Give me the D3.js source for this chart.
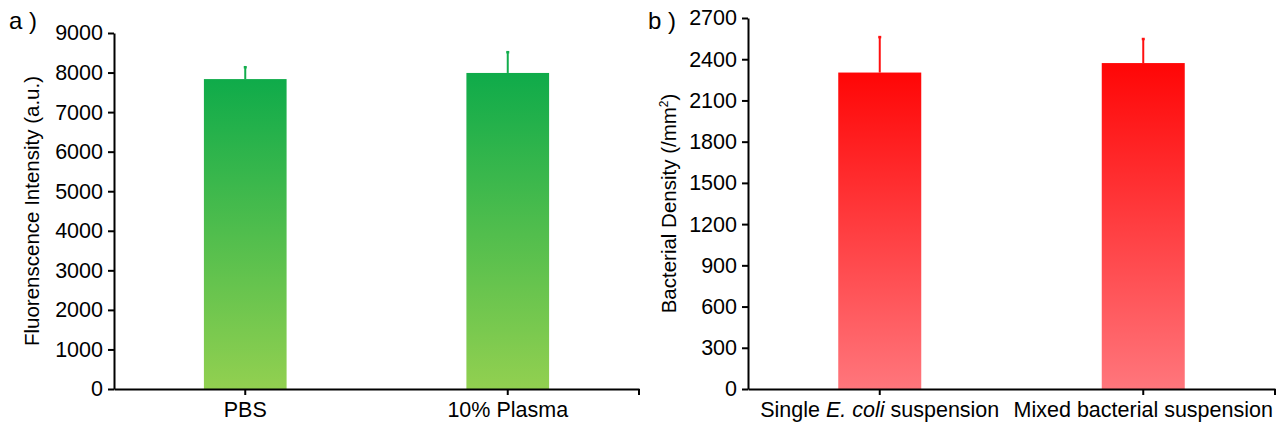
<!DOCTYPE html>
<html>
<head>
<meta charset="utf-8">
<script src="https://cdn.jsdelivr.net/npm/d3@7"></script>
<style>
  body { margin: 0; background: #fff; }
  svg { font-family: "Liberation Sans", Arial, sans-serif; }
</style>
</head>
<body>
<script>
// 数据
const catsA = ['PBS', '10% Plasma'];
const valsA = [7835, 7990];
const errA = [300, 525];
const ticksA = [0, 1000, 2000, 3000, 4000, 5000, 6000, 7000, 8000, 9000];

const catsB = ['single', 'mixed'];
// 横轴标签，分段以便斜体
const labelsB = [
    [['Single ', false], ['E. coli', true], [' suspension', false]],
    [['Mixed bacterial suspension', false]]
];
const valsB = [2303, 2372];
const errB = [258, 175];
const ticksB = [0, 300, 600, 900, 1200, 1500, 1800, 2100, 2400, 2700];

const width = 1285;
const height = 429;
const fs = 21.5;

const svg = d3.select('body')
    .append('svg')
    .attr('width', width)
    .attr('height', height);

const defs = svg.append('defs');

function grad(id, top, bottom) {
    const g = defs.append('linearGradient')
        .attr('id', id)
        .attr('x1', 0).attr('y1', 0)
        .attr('x2', 0).attr('y2', 1);
    g.append('stop').attr('offset', '0%').attr('stop-color', top);
    g.append('stop').attr('offset', '100%').attr('stop-color', bottom);
}
grad('gGreen', '#0fab4a', '#92d050');
grad('gRed', '#ff0606', '#ff767c');

// 画一个面板
function panel(opt) {
    const g = svg.append('g')
        .attr('transform', 'translate(' + opt.left + ', ' + opt.top + ')');
    const w = opt.w, h = opt.h;

    const xScale = d3.scaleBand()
        .domain(opt.cats)
        .range([0, w]);

    const yScale = d3.scaleLinear()
        .domain([0, d3.max(opt.ticks)])
        .range([h, 0]);

    const bw = xScale.bandwidth() * 0.315;

    // 柱子
    g.selectAll('rect.bar')
        .data(opt.vals)
        .enter()
        .append('rect')
        .attr('class', 'bar')
        .attr('x', (d, i) => xScale(opt.cats[i]) + xScale.bandwidth() / 2 - bw / 2)
        .attr('width', bw)
        .attr('y', d => yScale(d))
        .attr('height', d => h - yScale(d))
        .attr('fill', 'url(#' + opt.fill + ')');

    // 误差线（只画上半部分）
    g.selectAll('line.err')
        .data(opt.vals)
        .enter()
        .append('line')
        .attr('class', 'err')
        .attr('x1', (d, i) => xScale(opt.cats[i]) + xScale.bandwidth() / 2)
        .attr('x2', (d, i) => xScale(opt.cats[i]) + xScale.bandwidth() / 2)
        .attr('y1', d => yScale(d))
        .attr('y2', (d, i) => yScale(d + opt.err[i]))
        .attr('stroke', opt.errColor)
        .attr('stroke-width', 2);

    g.selectAll('line.cap')
        .data(opt.vals)
        .enter()
        .append('line')
        .attr('class', 'cap')
        .attr('x1', (d, i) => xScale(opt.cats[i]) + xScale.bandwidth() / 2 - 1.5)
        .attr('x2', (d, i) => xScale(opt.cats[i]) + xScale.bandwidth() / 2 + 1.5)
        .attr('y1', (d, i) => yScale(d + opt.err[i]))
        .attr('y2', (d, i) => yScale(d + opt.err[i]))
        .attr('stroke', opt.errColor)
        .attr('stroke-width', 2.5);

    // y轴
    const yAxis = d3.axisLeft(yScale)
        .tickValues(opt.ticks)
        .tickSizeInner(6)
        .tickSizeOuter(0)
        .tickPadding(5)
        .tickFormat(d3.format('d'));

    const gy = g.append('g').call(yAxis);
    gy.select('.domain').attr('stroke-width', 2);
    gy.selectAll('.tick line').attr('stroke-width', 2);
    gy.selectAll('text').attr('font-size', fs).attr('fill', '#000')
        .attr('font-family', '"Liberation Sans", Arial, sans-serif');

    // x轴
    const xAxis = d3.axisBottom(xScale)
        .tickSizeInner(6)
        .tickSizeOuter(0)
        .tickPadding(7);

    const gx = g.append('g')
        .attr('transform', 'translate(0, ' + h + ')')
        .call(xAxis);
    gx.select('.domain').attr('stroke-width', 2);
    gx.selectAll('.tick line').attr('stroke-width', 2);
    gx.append('line')
        .attr('x1', xScale.range()[1]).attr('x2', xScale.range()[1])
        .attr('y1', 0).attr('y2', 6)
        .attr('stroke', '#000').attr('stroke-width', 2);
    gx.selectAll('text').attr('font-size', fs).attr('fill', '#000')
        .attr('font-family', '"Liberation Sans", Arial, sans-serif');

    if (opt.labels) {
        gx.selectAll('.tick text').each(function (d, i) {
            const t = d3.select(this).text('');
            opt.labels[i].forEach(p => {
                t.append('tspan').text(p[0]).attr('font-style', p[1] ? 'italic' : null);
            });
        });
    }

    // y轴标题
    const title = g.append('text')
        .attr('transform', 'translate(' + opt.titleX + ', ' + (h / 2 + opt.titleDy) + ') rotate(-90)')
        .attr('text-anchor', 'middle')
        .attr('font-size', 20.5)
        .attr('fill', '#000');
    opt.title.forEach(p => {
        const s = title.append('tspan').text(p[0]);
        if (p[1] === 'sup') s.attr('font-size', 12).attr('dy', -8);
        if (p[1] === 'after') s.attr('dy', 8);
    });

    // 面板标号
    svg.append('text')
        .attr('x', opt.tagX)
        .attr('y', opt.tagY)
        .attr('font-size', 24)
        .attr('fill', '#000')
        .text(opt.tag);
}

panel({
    left: 114, top: 33, w: 525, h: 356,
    cats: catsA, vals: valsA, err: errA, ticks: ticksA,
    fill: 'gGreen', errColor: '#12ad4c',
    title: [['Fluorenscence Intensity (a.u.)', null]],
    titleX: -75, titleDy: 0,
    tag: 'a )', tagX: 9, tagY: 29
});

panel({
    left: 748, top: 18, w: 527, h: 371,
    cats: catsB, vals: valsB, err: errB, ticks: ticksB,
    labels: labelsB,
    fill: 'gRed', errColor: '#ff1010',
    title: [['Bacterial Density (/mm', null], ['2', 'sup'], [')', 'after']],
    titleX: -72, titleDy: 0,
    tag: 'b )', tagX: 648, tagY: 29
});
</script>
</body>
</html>
